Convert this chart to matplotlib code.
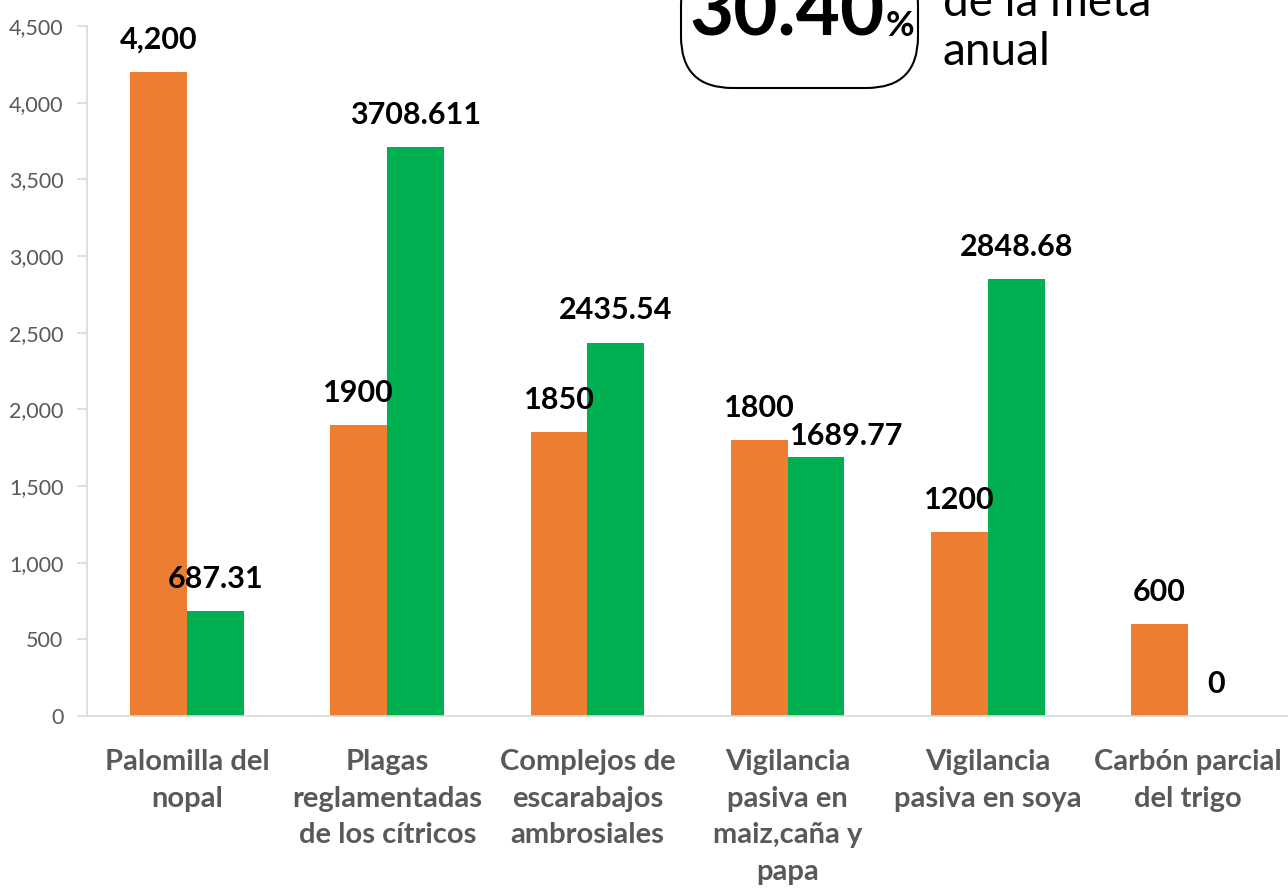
import matplotlib
matplotlib.use("Agg")
import matplotlib.pyplot as plt
from matplotlib.patches import FancyBboxPatch
from matplotlib.ticker import FuncFormatter
import numpy as np

# Datos
categorias = ["Palomilla del\nnopal", "Plagas\nreglamentadas\nde los cítricos",
              "Complejos de\nescarabajos\nambrosiales", "Vigilancia\npasiva en\nmaiz,caña y\npapa",
              "Vigilancia\npasiva en soya", "Carbón parcial\ndel trigo"]
meta = [4200, 1900, 1850, 1800, 1200, 600]
avance = [687.31, 3708.611, 2435.54, 1689.77, 2848.68, 0]
etiquetas_meta = ["4,200", "1900", "1850", "1800", "1200", "600"]
etiquetas_avance = ["687.31", "3708.611", "2435.54", "1689.77", "2848.68", "0"]
porcentaje = "30.40"

NARANJA = "#ED7D31"
VERDE = "#00B050"
GRIS = "#595959"

plt.rcParams['font.family'] = ['Lato', 'DejaVu Sans']

W, H = 1288, 891
fig = plt.figure(figsize=(W / 100, H / 100), dpi=100)
ax = fig.add_axes([87 / W, 1 - 716 / H, 1 - 87 / W, (716 - 26) / H])

x = np.arange(len(categorias))
ancho = 0.284
ax.bar(x - ancho / 2, meta, ancho, color=NARANJA)
ax.bar(x + ancho / 2, avance, ancho, color=VERDE)

# etiquetas de datos
for i in range(len(x)):
    ax.annotate(etiquetas_meta[i], (x[i] - ancho / 2, meta[i]), xytext=(0, 13),
                textcoords="offset points", ha="center", va="bottom",
                fontsize=22, fontweight="bold", color="black")
    dx, dy = 0, 13
    if etiquetas_avance[i] == "1689.77":
        dx, dy = 22, 5
    ax.annotate(etiquetas_avance[i], (x[i] + ancho / 2, avance[i]), xytext=(dx, dy),
                textcoords="offset points", ha="center", va="bottom",
                fontsize=22, fontweight="bold", color="black")

ax.set_xlim(-0.5, len(categorias) - 0.5)
ax.set_ylim(0, 4500)
ax.set_yticks(np.arange(0, 4501, 500))
ax.yaxis.set_major_formatter(FuncFormatter(lambda v, p: f"{int(v):,}"))
ax.tick_params(axis="y", labelsize=15.5, labelcolor=GRIS, color="#D9D9D9", length=7, width=1.2, pad=10)
ax.tick_params(axis="x", length=0, pad=24)
ax.set_xticks(x)
ax.set_xticklabels(categorias, fontsize=21, fontweight="bold", color=GRIS, linespacing=1.5)

for s in ["top", "right"]:
    ax.spines[s].set_visible(False)
ax.spines["left"].set_color("#D9D9D9")
ax.spines["bottom"].set_color("#D9D9D9")
ax.spines["left"].set_linewidth(1.2)
ax.spines["bottom"].set_linewidth(1.2)

# cuadro con porcentaje
caja = FancyBboxPatch((681 / W, 1 - 88 / H), (918 - 681) / W, 0.15,
                      boxstyle="round,pad=0,rounding_size=0.04", transform=fig.transFigure,
                      facecolor="white", edgecolor="black", linewidth=1.5, mutation_aspect=W / H)
fig.patches.append(caja)
fig.text(689 / W, 1 - 36 / H, porcentaje, fontsize=55, fontweight="bold",
         ha="left", va="baseline")
fig.text(886 / W, 1 - 36 / H, "%", fontsize=25, fontweight="bold", ha="left", va="baseline")
fig.text(943 / W, 1 - 65 / H, "de la meta\nanual", fontsize=33, ha="left", va="baseline",
         linespacing=1.2)

fig.savefig("out.png", dpi=100)
